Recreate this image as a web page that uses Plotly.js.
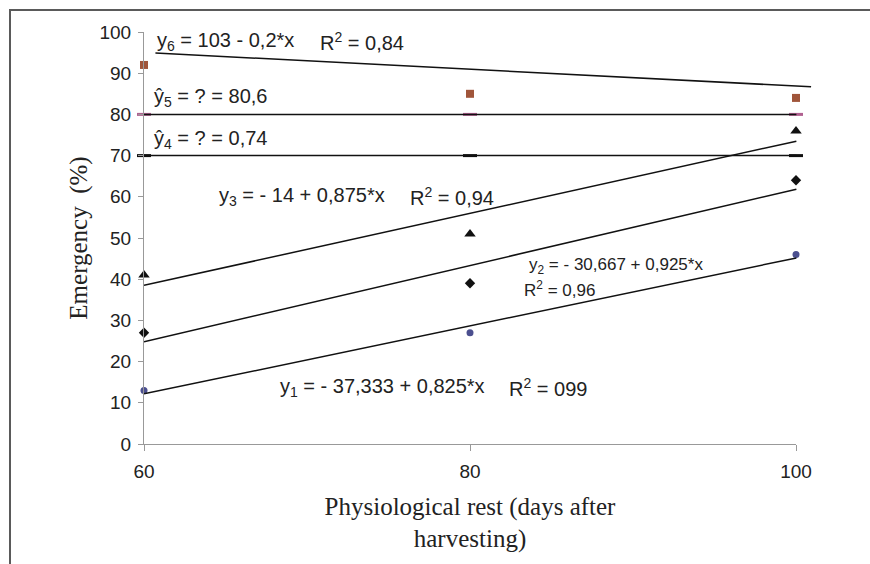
<!DOCTYPE html>
<html>
<head>
<meta charset="utf-8">
<script src="https://cdn.plot.ly/plotly-3.0.1.min.js"></script>
<style>
  html, body { margin: 0; padding: 0; background: #fff; }
  #wrap { position: relative; width: 870px; height: 564px; overflow: hidden; }
  #chart { width: 870px; height: 564px; }
  #frame { position: absolute; left: 9px; top: 9px; width: 900px; height: 600px;
           border-left: 2px solid #5a5a5a; border-top: 2px solid #5a5a5a; pointer-events: none; }
</style>
</head>
<body>
<div id="wrap"><div id="chart"></div><div id="frame"></div></div>
<script>
// Days after harvesting
var days = [60, 80, 100];

// Observed emergency (%) per treatment
var obs1 = [13, 27, 46];     // circles
var obs2 = [27, 39, 64];     // diamonds
var obs3 = [41, 51, 76];     // triangles
var obs4 = [70, 70, 70];     // black dashes
var obs5 = [80, 80, 80];     // pink dashes
var obs6 = [92, 85, 84];     // squares

// Fitted equation coefficients [intercept, slope]
var fit1 = [-37.333, 0.825];
var fit2 = [-30.667, 0.925];
var fit3 = [-14, 0.875];
var fitDays = [60, 100];

// Horizontal means
var mean4 = 70;
var mean5 = 80;

// y6 trend line as drawn
var line6X = [60.7, 100.9];
var line6Y = [94.9, 86.7];

function fitY(c) { return fitDays.map(function (d) { return c[0] + c[1] * d; }); }

var lineStyle = { color: '#111', width: 1.5 };
var traces = [
  { x: fitDays, y: fitY(fit1), mode: 'lines', line: lineStyle, xaxis: 'x2', yaxis: 'y', hoverinfo: 'skip' },
  { x: fitDays, y: fitY(fit2), mode: 'lines', line: lineStyle, xaxis: 'x2', yaxis: 'y', hoverinfo: 'skip' },
  { x: fitDays, y: fitY(fit3), mode: 'lines', line: lineStyle, xaxis: 'x2', yaxis: 'y', hoverinfo: 'skip' },
  { x: fitDays, y: [mean4, mean4], mode: 'lines', line: lineStyle, xaxis: 'x2', yaxis: 'y', hoverinfo: 'skip' },
  { x: fitDays, y: [mean5, mean5], mode: 'lines', line: lineStyle, xaxis: 'x2', yaxis: 'y', hoverinfo: 'skip' },
  { x: line6X, y: line6Y, mode: 'lines', line: lineStyle, xaxis: 'x2', yaxis: 'y', hoverinfo: 'skip' },

  { x: days, y: obs1, mode: 'markers', cliponaxis: false, marker: { symbol: 'circle', size: 7, color: '#4b4f8f' } },
  { x: days, y: obs2, mode: 'markers', cliponaxis: false, marker: { symbol: 'diamond', size: 8, color: '#111' } },
  { x: days, y: obs3, mode: 'markers', cliponaxis: false, marker: { symbol: 'triangle-up', size: 10, color: '#111' } },
  { x: days, y: obs4, mode: 'markers', cliponaxis: false, marker: { symbol: 'line-ew', size: 10, line: { color: '#111', width: 3 } } },
  { x: days, y: obs5, mode: 'markers', cliponaxis: false, marker: { symbol: 'line-ew', size: 10, line: { color: '#b06090', width: 3 } } },
  { x: days, y: obs6, mode: 'markers', cliponaxis: false, marker: { symbol: 'square', size: 8, color: '#a0553a' } }
];

var annFont = { family: 'Liberation Sans, Arial, sans-serif', size: 20, color: '#222' };
var smallFont = { family: 'Liberation Sans, Arial, sans-serif', size: 17, color: '#222' };
function ann(x, y, text, font) {
  return { x: x, y: y, xref: 'x', yref: 'y', text: text, showarrow: false, xanchor: 'left', yanchor: 'middle', font: font || annFont };
}

var layout = {
  width: 870, height: 564,
  margin: { l: 144, r: 41, t: 32, b: 120 },
  paper_bgcolor: '#fff', plot_bgcolor: 'rgba(0,0,0,0)',
  showlegend: false,
  xaxis: {
    domain: [0, 652 / 685], range: [60, 100], tickvals: days, ticktext: ['60', '80', '100'],
    showgrid: false, zeroline: false, showline: true, linecolor: '#999', linewidth: 1,
    ticks: 'outside', ticklen: 6, tickcolor: '#999', ticklabelstandoff: 4,
    tickfont: { family: 'Liberation Sans, Arial, sans-serif', size: 19, color: '#222' },
    title: { text: 'Physiological rest (days after<br>harvesting)', standoff: 16,
             font: { family: 'Liberation Serif, Times New Roman, serif', size: 25, color: '#222' } }
  },
  xaxis2: { domain: [0, 1], range: [60, 102], anchor: 'y', visible: false, showgrid: false, zeroline: false },
  yaxis: {
    range: [0, 100], dtick: 10, showgrid: false, zeroline: false,
    showline: true, linecolor: '#999', linewidth: 1,
    ticks: 'outside', ticklen: 5, tickcolor: '#999', ticklabelstandoff: 3,
    tickfont: { family: 'Liberation Sans, Arial, sans-serif', size: 19, color: '#222' },
    title: { text: 'Emergency  (%)', standoff: 4,
             font: { family: 'Liberation Serif, Times New Roman, serif', size: 25, color: '#222' } }
  },
  annotations: [
    ann(60.67, 97.6, 'y<sub>6</sub> = 103 - 0,2*x'),
    ann(70.7, 97.6, 'R<sup>2</sup> = 0,84'),
    ann(60.5, 84.2, 'ŷ<sub>5</sub> = ? = 80,6'),
    ann(60.5, 73.8, 'ŷ<sub>4</sub> = ? = 0,74'),
    ann(64.5, 60.0, 'y<sub>3</sub> = - 14 + 0,875*x'),
    ann(76.2, 60.0, 'R<sup>2</sup> = 0,94'),
    ann(83.5, 43.2, 'y<sub>2</sub> = - 30,667 + 0,925*x', smallFont),
    ann(83.2, 37.6, 'R<sup>2</sup> = 0,96', smallFont),
    ann(68.2, 13.8, 'y<sub>1</sub> = - 37,333 + 0,825*x'),
    ann(82.3, 13.8, 'R<sup>2</sup> = 099')
  ]
};

Plotly.newPlot('chart', traces, layout, { staticPlot: true, displayModeBar: false });
</script>
</body>
</html>
